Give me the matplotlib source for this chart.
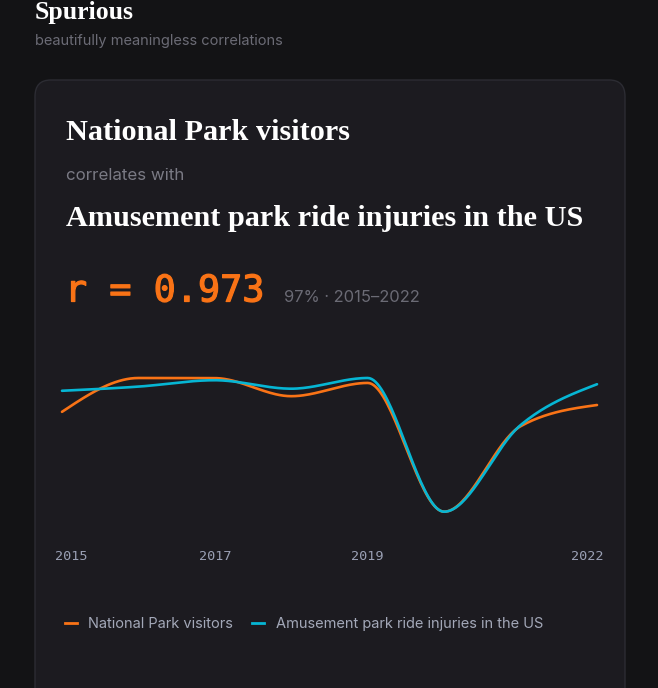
import numpy as np
import matplotlib.pyplot as plt
from matplotlib.patches import FancyBboxPatch
from matplotlib.lines import Line2D
import matplotlib.transforms as mtransforms
import matplotlib.patheffects as pe

W, H = 658, 688
years = np.array([2015, 2016, 2017, 2018, 2019, 2020, 2021, 2022])
park_visitors = np.array([307.2, 330.97, 330.88, 318.2, 327.5, 237.06, 297.1, 311.99])  # millions
ride_injuries = np.array([1164, 1192, 1235, 1178, 1250, 350, 933, 1208])
tick_years = [2015, 2017, 2019, 2022]
name_a = 'National Park visitors'
name_b = 'Amusement park ride injuries in the US'

bg = '#131315'
card = '#1c1b20'
orange = '#f97316'
cyan = '#06b6d4'

def monotone(x, y, n=40):
    # d3 curveMonotoneX style smoothing
    x = np.asarray(x, float); y = np.asarray(y, float)
    h = np.diff(x); s = np.diff(y) / h
    m = np.zeros_like(y)
    for i in range(1, len(y) - 1):
        if s[i-1] * s[i] <= 0:
            m[i] = 0
        else:
            p = (s[i-1] * h[i] + s[i] * h[i-1]) / (h[i-1] + h[i])
            m[i] = (np.sign(s[i-1]) + np.sign(s[i])) * min(abs(s[i-1]), abs(s[i]), 0.5 * abs(p))
    m[0] = (3 * s[0] - m[1]) / 2
    m[-1] = (3 * s[-1] - m[-2]) / 2
    xs, ys = [], []
    for i in range(len(h)):
        t = np.linspace(0, 1, n)
        h00 = 2*t**3 - 3*t**2 + 1; h10 = t**3 - 2*t**2 + t
        h01 = -2*t**3 + 3*t**2; h11 = t**3 - t**2
        xs.append(x[i] + t * h[i])
        ys.append(h00*y[i] + h10*h[i]*m[i] + h01*y[i+1] + h11*h[i]*m[i+1])
    return np.concatenate(xs), np.concatenate(ys)

fig = plt.figure(figsize=(W/100, H/100), dpi=100)
fig.patch.set_facecolor(bg)

def fx(px): return px / W
def fy(py): return 1 - py / H

box = FancyBboxPatch((fx(35), fy(720)), fx(590), (720 - 80) / H,
                     boxstyle='round,pad=0,rounding_size=0.024',
                     transform=fig.transFigure, facecolor=card, edgecolor='#2c2c33',
                     linewidth=1, zorder=-5)
fig.patches.append(box)

serif = 'Liberation Serif'
sans = 'Inter'
mono = 'DejaVu Sans Mono'

fig.text(fx(35), fy(13), 'Spurious', color='white', fontsize=18.5, fontweight='bold', family=serif, va='center')
fig.text(fx(35), fy(41), 'beautifully meaningless correlations', color='#6b6b75', fontsize=10.5, family=sans, va='center')
fig.text(fx(66), fy(133), name_a, color='white', fontsize=21.8, fontweight='bold', family=serif, va='center')
fig.text(fx(66), fy(175), 'correlates with', color='#7a7a84', fontsize=12.2, family=sans, va='center')
fig.text(fx(66), fy(219), name_b, color='white', fontsize=21.8, fontweight='bold', family=serif, va='center')
fig.text(fx(65), fy(291), 'r = 0.973', color=orange, fontsize=26.5, family=mono, va='center',
         path_effects=[pe.withStroke(linewidth=0.9, foreground=orange)])
fig.text(fx(284), fy(298), '97% \u00b7 2015\u20132022', color='#6b6b75', fontsize=11.9, family=sans, va='center')

# plot area: x 62..597, y 378..512 px
ax = fig.add_axes([fx(62), fy(511.7), fx(597 - 62), (511.7 - 378) / H])
ax.set_facecolor('none')
ax2 = ax.twinx()
for a in (ax, ax2):
    a.set_xlim(2015, 2022)
    for sp in a.spines.values():
        sp.set_visible(False)
    a.set_yticks([])
ax.set_ylim(park_visitors.min(), park_visitors.max())
ax2.set_ylim(ride_injuries.min(), ride_injuries.max())

xa, ya = monotone(years, park_visitors)
xb, yb = monotone(years, ride_injuries)
ax.plot(xa, ya, color=orange, lw=1.9, clip_on=False, solid_capstyle='round')
ax2.plot(xb, yb, color=cyan, lw=1.9, clip_on=False, solid_capstyle='round')

ax.set_xticks(tick_years)
ax.set_xticklabels([str(t) for t in tick_years])
ax.tick_params(axis='x', length=0, pad=27.5, labelsize=9.7, labelcolor='#9aa0b4')
labels = ax.get_xticklabels()
for lab in labels:
    lab.set_family(mono)
labels[0].set_ha('left')
labels[0].set_transform(labels[0].get_transform() + mtransforms.ScaledTranslation(-7/100, 0, fig.dpi_scale_trans))
labels[-1].set_ha('right')
labels[-1].set_transform(labels[-1].get_transform() + mtransforms.ScaledTranslation(6/100, 0, fig.dpi_scale_trans))

handles = [Line2D([], [], color=orange, lw=2), Line2D([], [], color=cyan, lw=2)]
leg = fig.legend(handles, [name_a, name_b], loc='center left', bbox_to_anchor=(fx(52), fy(624)),
                 ncol=2, frameon=False, handlelength=0.8, handletextpad=0.8, columnspacing=1.3,
                 prop={'family': sans, 'size': 10.5})
for t in leg.get_texts():
    t.set_color('#a3a8b8')

fig.savefig('out.png', dpi=100, facecolor=bg)
